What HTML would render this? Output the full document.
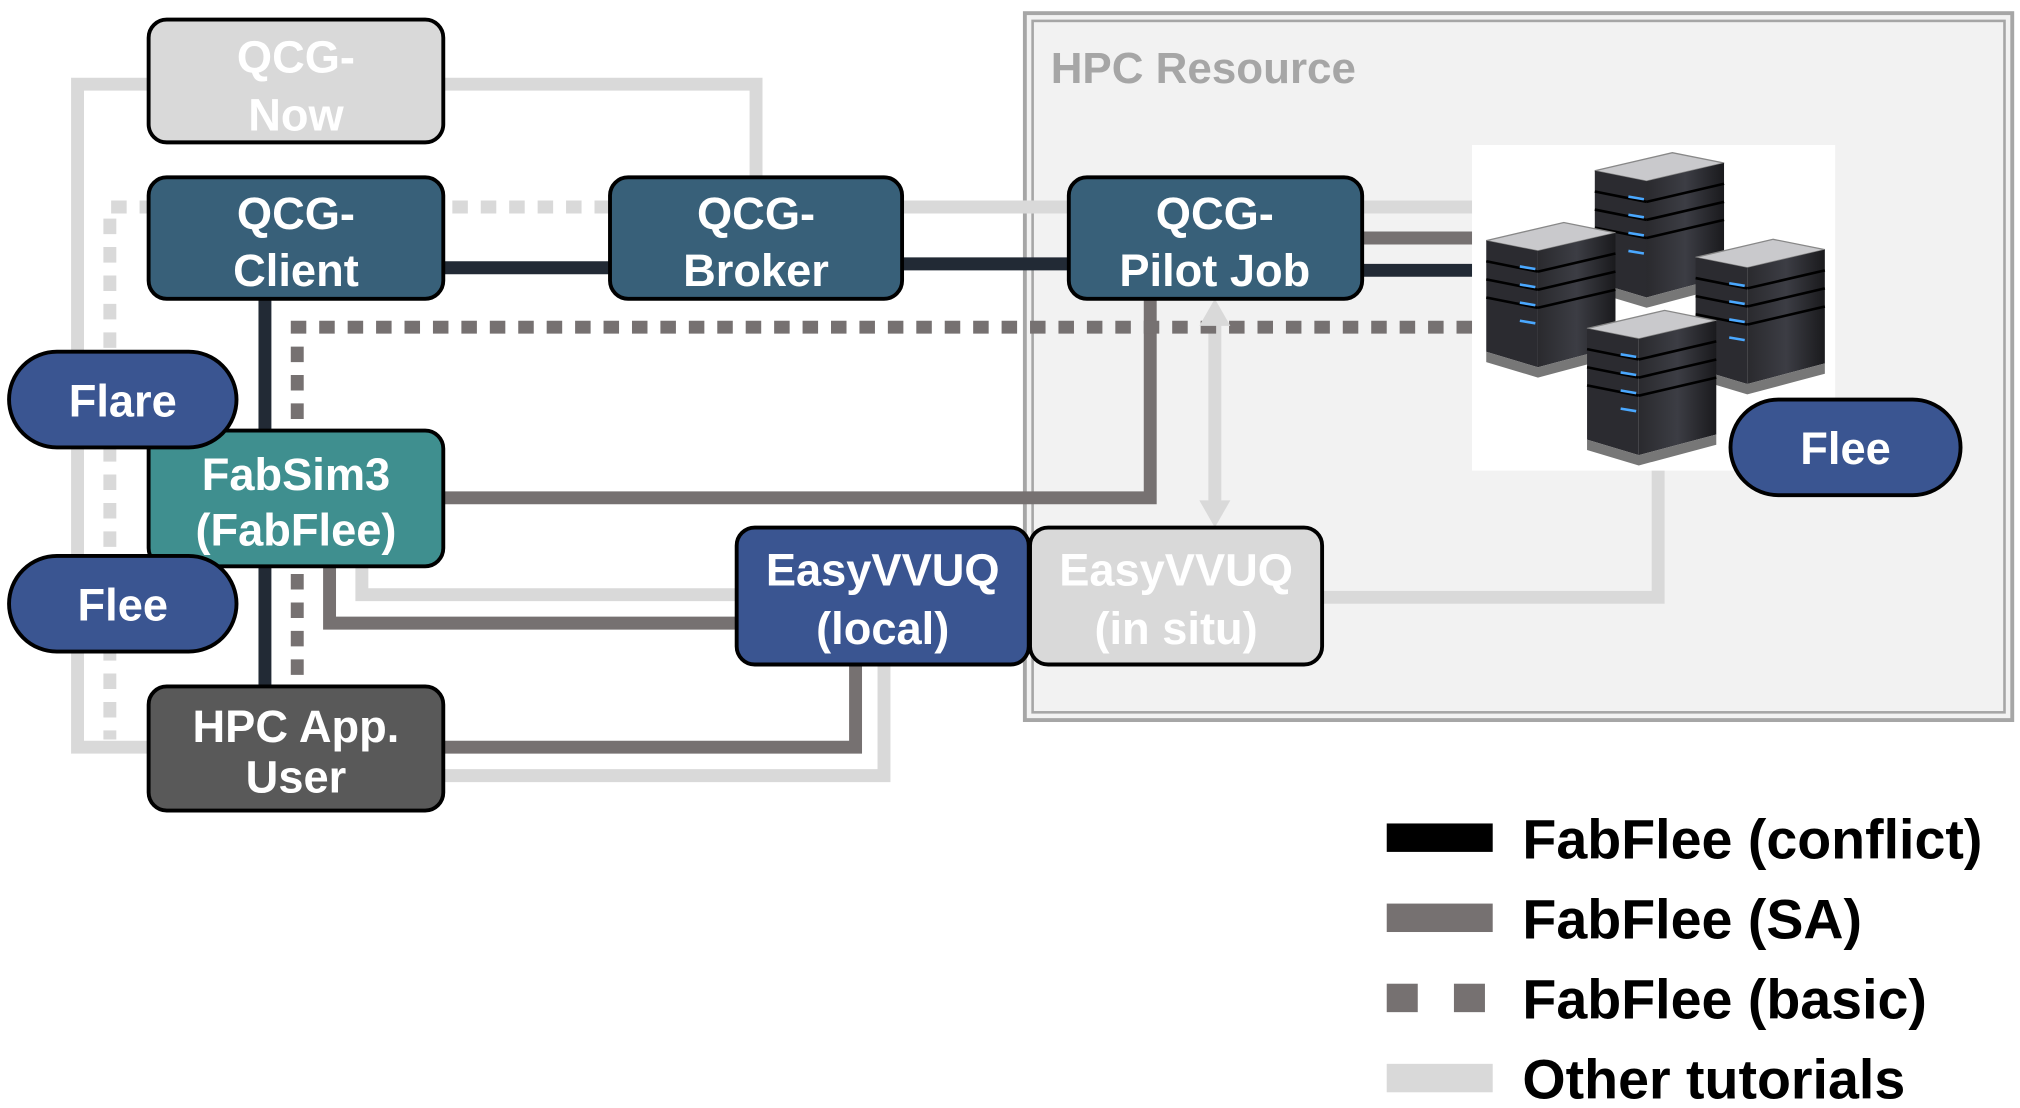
<!DOCTYPE html>
<html><head><meta charset="utf-8"><style>
html,body{margin:0;padding:0;background:#fff;width:2020px;height:1108px;overflow:hidden}
svg{display:block}
text{font-family:"Liberation Sans",sans-serif;font-weight:bold}
</style></head><body>
<svg width="2020" height="1108" viewBox="0 0 1563 857" xmlns="http://www.w3.org/2000/svg">
<defs>
<linearGradient id="sv" x1="0" x2="1"><stop offset="0" stop-color="#2a2a2e"/><stop offset="0.5" stop-color="#3c3d44"/><stop offset="1" stop-color="#1a1a1d"/></linearGradient>
<g id="srv">
<polygon points="0,14 60,0 100,8 40,22" fill="#c9c9cc" stroke="#888" stroke-width="1"/>
<polygon points="0,14 40,22 40,112 0,100" fill="#2b2b30"/>
<polygon points="40,22 100,8 100,96 40,112" fill="url(#sv)"/>
<g stroke="#000" stroke-width="2"><line x1="0" y1="30" x2="40" y2="38"/><line x1="0" y1="44" x2="40" y2="52"/><line x1="0" y1="58" x2="40" y2="66"/><line x1="40" y1="38" x2="100" y2="24"/><line x1="40" y1="52" x2="100" y2="38"/><line x1="40" y1="66" x2="100" y2="52"/></g>
<g stroke="#4aa8ff" stroke-width="2"><line x1="26" y1="34" x2="38" y2="36"/><line x1="26" y1="48" x2="38" y2="50"/><line x1="26" y1="62" x2="38" y2="64"/><line x1="26" y1="76" x2="38" y2="78"/></g>
<polygon points="0,100 40,112 100,96 100,104 40,120 0,108" fill="#777"/>
</g>
</defs>
<rect x="793" y="10" width="764" height="547" fill="#f2f2f2" stroke="#a6a6a6" stroke-width="3"/>
<rect x="799" y="16" width="752" height="535" fill="none" stroke="#a6a6a6" stroke-width="2"/>
<text x="813" y="64" font-size="34" fill="#a6a6a6">HPC Resource</text>
<rect x="1139" y="112" width="281" height="252" fill="#fff"/>
<g fill="none" stroke-linejoin="miter">
<g stroke="#d9d9d9" stroke-width="10">
<polyline points="115,65 60,65 60,578 115,578"/>
<polyline points="343,65 585,65 585,137"/>
<line x1="698" y1="160" x2="827" y2="160"/>
<line x1="1054" y1="160" x2="1139" y2="160"/>
<polyline points="280,438 280,460 570,460"/>
<polyline points="684,514 684,600 343,600"/>
<polyline points="1023,462 1283,462 1283,364"/>
<line x1="940" y1="250" x2="940" y2="390"/>
</g>
<g stroke="#d9d9d9" stroke-width="10" stroke-dasharray="12 10">
<polyline points="472,160 85,160 85,572"/>
</g>
<g stroke="#767171" stroke-width="10">
<line x1="1054" y1="184" x2="1139" y2="184"/>
<polyline points="343,385 890,385 890,231"/>
<polyline points="255,438 255,482 570,482"/>
<polyline points="662,514 662,578 343,578"/>
</g>
<g stroke="#767171" stroke-width="10" stroke-dasharray="12 10">
<polyline points="1139,253 230,253 230,531"/>
</g>
<g stroke="#222a35" stroke-width="10">
<line x1="343" y1="207" x2="472" y2="207"/>
<line x1="698" y1="204" x2="827" y2="204"/>
<line x1="1054" y1="209" x2="1139" y2="209"/>
<line x1="205" y1="231" x2="205" y2="531"/>
</g>
</g>
<polygon points="940,231 928,252 952,252" fill="#d9d9d9"/>
<polygon points="940,408 928,387 952,387" fill="#d9d9d9"/>
<use href="#srv" transform="translate(1234,118)"/>
<use href="#srv" transform="translate(1150,172)"/>
<use href="#srv" transform="translate(1312,185)"/>
<use href="#srv" transform="translate(1228,240)"/>
<g stroke="#000" stroke-width="3">
<rect x="115" y="15" width="228" height="95" rx="14" fill="#d9d9d9"/>
<rect x="115" y="137" width="228" height="94" rx="14" fill="#386079"/>
<rect x="472" y="137" width="226" height="94" rx="14" fill="#386079"/>
<rect x="827" y="137" width="227" height="94" rx="14" fill="#386079"/>
<rect x="115" y="333" width="228" height="105" rx="14" fill="#3f8f8f"/>
<rect x="115" y="531" width="228" height="96" rx="14" fill="#595959"/>
<rect x="570" y="408" width="226" height="106" rx="14" fill="#3a5591"/>
<rect x="797" y="408" width="226" height="106" rx="14" fill="#d9d9d9"/>
<rect x="7" y="272" width="176" height="74" rx="37" fill="#3a5591"/>
<rect x="7" y="430" width="176" height="74" rx="37" fill="#3a5591"/>
<rect x="1339" y="309" width="178" height="74" rx="37" fill="#3a5591"/>
</g>
<g fill="#fff" font-size="35" text-anchor="middle">
<text x="229" y="56">QCG-</text><text x="229" y="101">Now</text>
<text x="229" y="177">QCG-</text><text x="229" y="221">Client</text>
<text x="585" y="177">QCG-</text><text x="585" y="221">Broker</text>
<text x="940" y="177">QCG-</text><text x="940" y="221">Pilot Job</text>
<text x="229" y="379">FabSim3</text><text x="229" y="422">(FabFlee)</text>
<text x="229" y="574">HPC App.</text><text x="229" y="613">User</text>
<text x="683" y="453">EasyVVUQ</text><text x="683" y="498">(local)</text>
<text x="910" y="453">EasyVVUQ</text><text x="910" y="498">(in situ)</text>
<text x="95" y="322">Flare</text>
<text x="95" y="480">Flee</text>
<text x="1428" y="359">Flee</text>
</g>
<rect x="1073" y="637" width="82" height="22" fill="#000"/>
<rect x="1073" y="699" width="82" height="22" fill="#767171"/>
<rect x="1073" y="761" width="24" height="22" fill="#767171"/>
<rect x="1125" y="761" width="24" height="22" fill="#767171"/>
<rect x="1073" y="823" width="82" height="22" fill="#d9d9d9"/>
<g font-size="43" fill="#000">
<text x="1178" y="664">FabFlee (conflict)</text>
<text x="1178" y="726">FabFlee (SA)</text>
<text x="1178" y="788">FabFlee (basic)</text>
<text x="1178" y="850">Other tutorials</text>
</g>
</svg>
</body></html>
